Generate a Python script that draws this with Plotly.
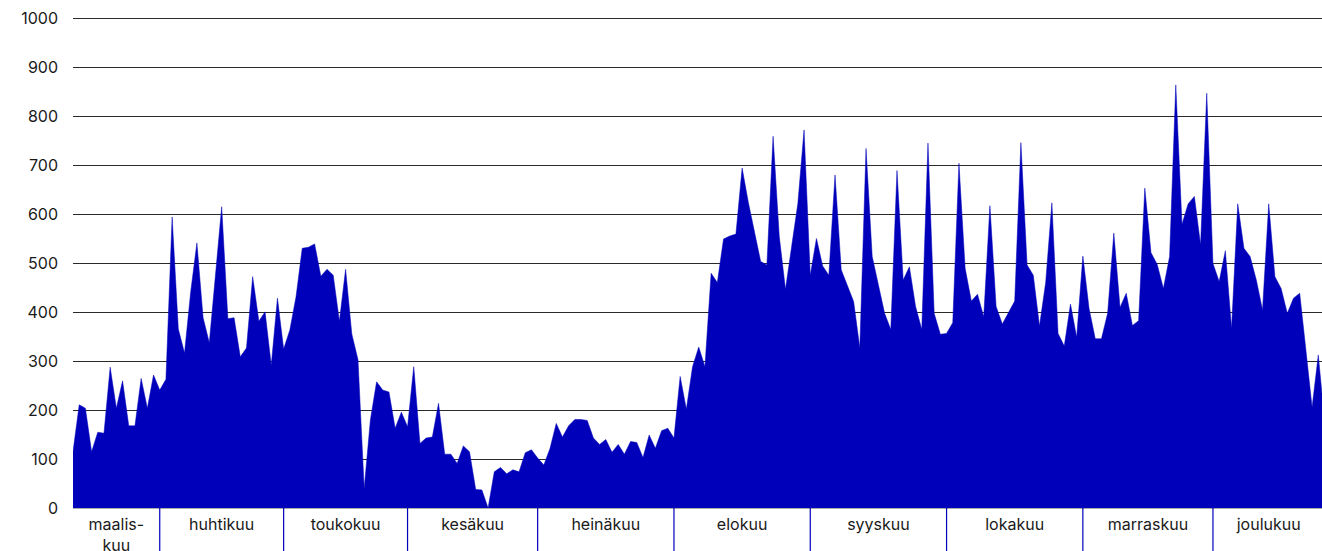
import plotly.graph_objects as go

# ---- data ----
month_labels = ["maalis-<br>kuu", "huhtikuu", "toukokuu", "kesäkuu", "heinäkuu",
                "elokuu", "syyskuu", "lokakuu", "marraskuu", "joulukuu"]
month_counts = [14, 20, 20, 21, 22, 22, 22, 22, 21, 19]

values = [
    # maaliskuu
    115, 211, 204, 115, 155, 153, 288, 204, 260, 168, 168, 265, 204, 272,
    # huhtikuu
    241, 263, 595, 366, 317, 442, 542, 389, 338, 480, 616, 387, 389, 309, 327, 473,
    382, 401, 292, 429,
    # toukokuu
    325, 364, 432, 531, 533, 540, 474, 488, 476, 382, 488, 356, 303, 40, 180, 258,
    241, 237, 163, 196,
    # kesäkuu
    166, 289, 132, 143, 145, 214, 110, 110, 91, 127, 115, 38, 37, 0, 74, 83, 70, 78,
    74, 113, 119,
    # heinäkuu
    102, 88, 122, 173, 145, 168, 181, 181, 179, 143, 130, 140, 114, 130, 110, 136,
    134, 103, 149, 122, 158, 163,
    # elokuu
    143, 269, 202, 289, 329, 289, 480, 461, 550, 556, 560, 695, 625, 565, 504, 497,
    760, 555, 447, 535, 623, 773,
    # syyskuu
    476, 551, 495, 476, 681, 487, 453, 422, 327, 735, 514, 456, 398, 365, 690, 466,
    493, 412, 365, 746, 398, 355,
    # lokakuu
    357, 379, 705, 490, 423, 437, 391, 618, 412, 376, 398, 423, 747, 497, 476, 372,
    461, 624, 357, 331, 417, 349,
    # marraskuu
    515, 408, 346, 346, 398, 562, 410, 439, 373, 383, 654, 522, 498, 449, 514, 865,
    580, 622, 637, 538, 848,
    # joulukuu
    500, 463, 526, 367, 622, 531, 514, 466, 405, 622, 473, 449, 398, 429, 439, 323,
    206, 313, 180,
]

y_ticks = [0, 100, 200, 300, 400, 500, 600, 700, 800, 900, 1000]

# ---- derived positions ----
n = len(values)
xs = list(range(n))
starts = []
acc = 0
for c in month_counts:
    starts.append(acc)
    acc += c
ends = starts[1:] + [n - 1]
label_pos = [(s + e) / 2 for s, e in zip(starts, ends)]

BLUE = "#0000bb"
TXT = "#1a1a1a"
FONT = "Inter, Roboto, Arial, sans-serif"

fig = go.Figure()
fig.add_trace(go.Scatter(
    x=xs, y=values, mode="lines", fill="tozeroy",
    line=dict(color=BLUE, width=0.5), fillcolor=BLUE,
    hoverinfo="skip", showlegend=False,
))

shapes = []
for s in starts[1:]:
    shapes.append(dict(type="line", xref="x", yref="paper", x0=s, x1=s,
                       y0=0, y1=-0.2, line=dict(color=BLUE, width=1.2),
                       layer="above"))

fig.update_layout(
    width=1322, height=551,
    margin=dict(l=73, r=0, t=14, b=43, pad=0, autoexpand=False),
    paper_bgcolor="white", plot_bgcolor="white",
    font=dict(family=FONT, size=16, color=TXT),
    shapes=shapes,
    xaxis=dict(
        range=[0, 201.6], tickmode="array", tickvals=label_pos, ticktext=month_labels,
        showgrid=False, zeroline=False, showline=True, linecolor="#aaaaaa", linewidth=1,
        ticks="", ticklabelstandoff=2, tickfont=dict(size=16, color=TXT),
        automargin=False, fixedrange=True,
    ),
    yaxis=dict(
        range=[0, 1010], tickmode="array", tickvals=y_ticks,
        showgrid=True, gridcolor="#2a2a2a", gridwidth=1, zeroline=False,
        showline=False, ticks="", ticklabelstandoff=14,
        tickfont=dict(size=16, color=TXT), automargin=False, fixedrange=True,
    ),
)

fig.write_html("out.html",
               config={"displayModeBar": False},
               post_script="document.body.style.margin='0';document.body.style.overflow='hidden';")
